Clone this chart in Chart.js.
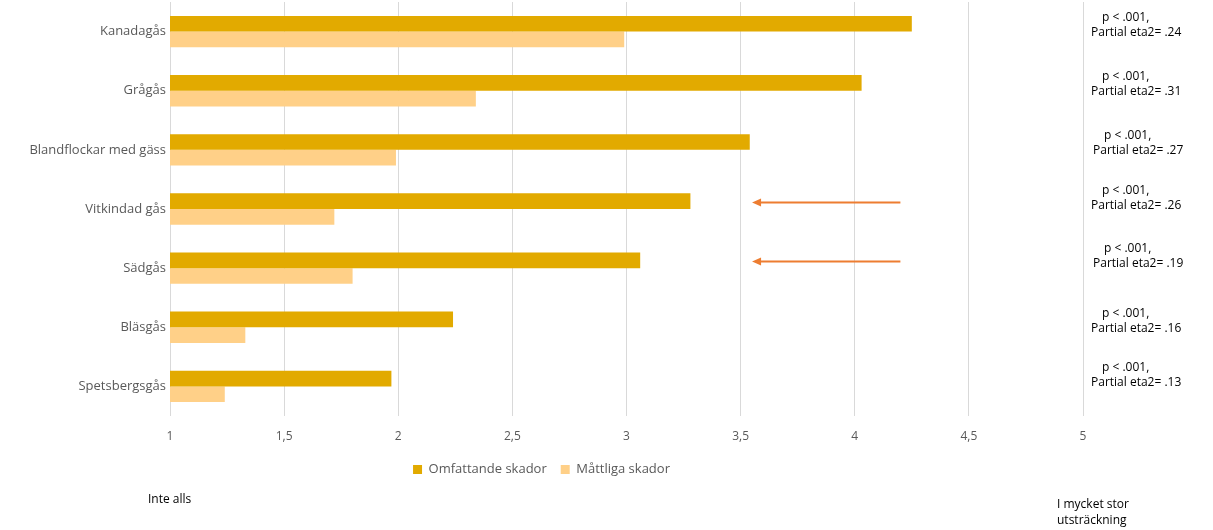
<!DOCTYPE html>
<html>
<head>
<meta charset="utf-8">
<script src="https://cdn.jsdelivr.net/npm/chart.js@4/dist/chart.umd.min.js"></script>
<style>
	body { margin: 0; background: #fff; }
	#wrap { width: 1213px; height: 530px; position: relative; }
</style>
</head>
<body>
<div id="wrap"><canvas id="barChart"></canvas></div>
<script>
// Data
const categories = ["Kanadagås", "Grågås", "Blandflockar med gäss", "Vitkindad gås", "Sädgås", "Bläsgås", "Spetsbergsgås"];
const omfattande = [4.25, 4.03, 3.54, 3.28, 3.06, 2.24, 1.97];
const mattliga = [2.99, 2.34, 1.99, 1.72, 1.80, 1.33, 1.24];
const eta2 = [".24", ".31", ".27", ".26", ".19", ".16", ".13"];
const arrowRows = [3, 4]; // Vitkindad gås, Sädgås
const arrowFrom = 4.2;
const arrowTo = 3.55;

const FONT = "'Open Sans', 'Noto Sans', sans-serif";
const TEXT = "#595959";

/*######################################*
||        Side notes and arrows        ||
*######################################*/

const notesPlugin = {
	id: "notes",
	afterDraw(chart) {
		const ctx = chart.ctx;
		const x = chart.scales.x;
		const y = chart.scales.y;
		const nudge = [0, 0, 2, 0, 2, 0, 0];
		const shift = [0, 0, 0, -4, -6, 0, -5];

		ctx.save();
		ctx.font = "12px " + FONT;
		ctx.fillStyle = "#000";
		ctx.textBaseline = "middle";
		ctx.textAlign = "left";
		categories.forEach((c, i) => {
			const cy = y.getPixelForValue(i) + shift[i];
			ctx.fillText("p < .001,", x.right + 19 + nudge[i], cy - 14);
			ctx.fillText("Partial eta2= " + eta2[i], x.right + 8 + nudge[i], cy + 1);
		});

		// orange arrows
		ctx.strokeStyle = "#ED7D31";
		ctx.fillStyle = "#ED7D31";
		ctx.lineWidth = 2;
		arrowRows.forEach((r) => {
			const ay = Math.round(y.getPixelForValue(r) - 7) + 0.5;
			const x0 = x.getPixelForValue(arrowFrom);
			const x1 = x.getPixelForValue(arrowTo);
			ctx.beginPath();
			ctx.moveTo(x0, ay);
			ctx.lineTo(x1 + 6, ay);
			ctx.stroke();
			ctx.beginPath();
			ctx.moveTo(x1, ay);
			ctx.lineTo(x1 + 9, ay - 4);
			ctx.lineTo(x1 + 9, ay + 4);
			ctx.closePath();
			ctx.fill();
		});

		// scale end texts
		ctx.fillStyle = "#000";
		ctx.font = "12px " + FONT;
		ctx.fillText("Inte alls", x.getPixelForValue(1) - 22, 500);
		ctx.fillText("I mycket stor", x.getPixelForValue(5) - 26, 505);
		ctx.fillText("utsträckning", x.getPixelForValue(5) - 26, 521);
		ctx.restore();
	},
};

new Chart("barChart", {
	type: "bar",
	data: {
		labels: categories,
		datasets: [
			{
				label: "Omfattande skador",
				backgroundColor: "#E2AA00",
				data: omfattande,
			},
			{
				label: "Måttliga skador",
				backgroundColor: "#FFD088",
				data: mattliga,
			},
		],
	},
	options: {
		indexAxis: "y",
		responsive: true,
		maintainAspectRatio: false,
		animation: false,
		datasets: {
			bar: {
				barPercentage: 1,
				categoryPercentage: 0.53,
			},
		},
		layout: {
			padding: { top: 2, right: 130, bottom: 44, left: 0 },
		},
		plugins: {
			legend: {
				position: "bottom",
				labels: {
					boxWidth: 9,
					boxHeight: 9,
					padding: 14,
					color: TEXT,
					font: { family: FONT, size: 13 },
				},
			},
			tooltip: { enabled: false },
		},
		scales: {
			x: {
				min: 1,
				max: 5,
				ticks: {
					stepSize: 0.5,
					color: TEXT,
					padding: 13,
					font: { family: FONT, size: 12 },
					callback: (v) => String(v).replace(".", ","),
				},
				grid: { color: "#D9D9D9", drawTicks: false },
				border: { display: false },
				afterFit: (scale) => {
					scale.height = 33;
				},
			},
			y: {
				ticks: {
					color: TEXT,
					padding: 4,
					font: { family: FONT, size: 13 },
				},
				grid: { display: false, drawTicks: false },
				border: { display: false },
				afterFit: (scale) => {
					scale.width = 170;
					scale.paddingTop = 0;
					scale.paddingBottom = 0;
				},
			},
		},
	},
	plugins: [notesPlugin],
});
</script>
</body>
</html>
